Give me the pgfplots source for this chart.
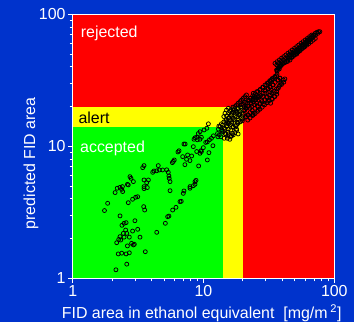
\documentclass[border=0pt]{standalone}
\usepackage{fontspec}
\setmainfont{Liberation Sans}
\usepackage{pgfplots}
\pgfplotsset{compat=1.18}
\definecolor{bgblue}{RGB}{0,51,204}
\definecolor{myred}{RGB}{255,0,0}
\definecolor{myyellow}{RGB}{255,255,0}
\definecolor{mygreen}{RGB}{0,255,0}
\pgfplotstableread{
x y
1.75 3.26
1.85 3.70
2.11 4.46
2.19 4.81
2.30 4.89
2.40 4.95
2.41 4.54
2.37 4.72
2.74 5.89
2.79 5.72
2.66 5.10
2.62 5.15
2.91 5.40
2.66 3.74
2.87 3.97
3.03 4.11
3.14 4.15
2.30 2.97
2.47 2.61
2.56 2.64
2.54 2.32
2.38 2.52
2.44 2.19
2.30 2.07
2.25 1.97
2.17 1.86
2.33 1.95
2.47 2.05
2.59 2.19
2.71 2.05
2.82 1.84
2.91 1.79
2.96 1.81
2.62 1.76
2.37 1.55
2.23 1.53
2.56 1.53
2.71 1.56
2.59 1.28
2.14 1.16
2.99 2.73
3.14 2.35
3.27 2.05
2.87 2.28
3.59 1.59
4.39 2.23
3.51 7.14
3.43 6.89
3.51 5.56
3.51 4.78
3.68 5.30
3.79 5.56
3.51 4.95
3.72 4.87
3.49 3.49
3.55 3.29
4.09 6.35
4.18 6.50
4.39 6.52
4.51 7.14
4.60 6.62
4.87 6.62
5.23 6.64
5.38 6.35
5.44 5.96
5.47 5.72
5.55 5.40
5.55 4.61
5.11 2.61
5.32 2.93
5.44 2.96
5.81 3.29
6.16 3.45
6.61 3.81
6.76 3.83
7.01 4.40
7.09 4.59
7.88 4.81
7.88 4.95
8.36 5.03
8.61 5.40
8.77 5.52
8.61 5.15
5.78 7.52
5.88 7.69
5.98 7.88
6.38 9.06
6.50 9.25
7.09 10.4
7.24 10.4
6.93 8.35
7.21 7.26
7.42 7.97
7.56 8.60
7.88 7.79
8.12 8.45
8.87 9.13
9.18 7.10
9.40 8.85
9.54 9.25
9.64 9.13
10.7 7.88
11.0 8.95
9.97 9.77
10.4 10.7
10.7 10.8
11.1 11.2
11.5 11.5
11.9 12.0
11.8 10.1
8.36 9.94
8.46 11.3
8.61 11.6
8.87 11.7
9.13 12.5
9.40 12.9
10.1 13.3
10.6 13.7
10.9 14.8
9.40 11.3
9.64 11.7
8.97 11.2
13.0 13.5
13.4 14.1
13.8 13.0
14.2 12.9
14.6 13.5
13.2 12.2
12.8 12.5
14.0 14.5
15.0 14.1
15.5 13.5
13.6 11.8
14.4 11.5
12.9 11.8
15.3 12.0
15.2 11.5
15.9 11.3
16.1 11.8
16.7 12.5
16.9 12.2
17.4 12.7
16.4 12.0
17.9 13.2
18.4 12.4
14.6 12.5
15.5 12.4
14.3 16.8
14.6 17.8
15.0 18.8
15.5 19.4
15.9 18.5
16.4 17.8
16.9 18.8
17.4 20.0
17.9 20.6
18.4 21.2
19.0 21.8
19.5 22.4
20.1 23.1
20.7 23.8
21.3 24.5
16.9 16.3
17.4 15.8
18.4 16.8
19.0 17.3
19.5 16.5
20.1 17.8
20.7 18.8
15.9 15.8
15.5 16.3
16.4 15.0
16.9 14.1
17.9 14.5
19.0 15.3
19.8 15.6
21.3 16.8
22.0 17.3
22.7 19.4
23.3 20.0
24.0 17.8
24.7 20.6
25.5 21.2
21.7 21.2
22.3 22.4
22.7 23.1
24.0 22.4
19.5 20.6
18.4 19.4
17.4 18.2
16.4 17.3
15.2 15.3
16.1 14.6
17.9 13.5
15.0 17.0
15.6 18.0
16.2 19.0
16.8 19.8
17.2 19.2
18.0 18.0
18.8 18.6
19.2 19.8
20.4 20.0
21.0 19.5
20.5 21.5
21.8 20.2
23.0 21.5
14.8 15.6
15.4 14.8
18.2 15.2
24.0 17.3
26.2 18.8
24.5 24.0
25.5 23.3
26.5 24.0
24.0 25.2
25.5 25.9
27.0 26.7
28.6 28.0
30.4 29.1
31.2 30.0
32.2 30.9
33.0 31.8
34.1 32.7
35.1 33.3
36.2 34.1
29.5 25.2
28.6 23.8
27.8 22.4
27.0 21.2
30.4 23.8
32.2 25.9
33.0 26.7
33.6 22.7
35.1 23.8
36.2 25.9
37.3 27.5
38.4 29.1
39.5 30.0
40.7 31.8
41.9 32.4
34.1 29.1
37.3 31.8
38.4 32.7
32.6 24.5
31.2 27.5
29.5 26.7
26.2 23.8
24.7 22.4
24.0 23.1
28.6 20.8
32.2 28.0
31.2 22.0
32.6 21.2
36.2 37.9
37.3 39.0
38.4 40.2
39.5 41.3
40.7 42.5
41.9 43.0
43.2 43.8
36.8 38.3
37.9 39.5
38.9 40.6
36.5 37.0
38.0 38.5
44.5 46.4
45.8 47.8
47.2 49.2
48.6 50.7
50.1 51.2
51.6 52.1
53.1 53.7
54.7 55.3
56.4 56.9
58.1 58.6
59.8 60.3
61.6 62.1
63.5 63.9
65.4 65.8
67.3 67.8
69.4 69.8
71.4 71.8
73.6 73.1
75.8 73.9
45.8 45.0
48.6 48.0
51.6 50.0
54.7 53.0
58.1 56.0
61.6 60.0
47.2 47.0
50.1 49.5
53.1 52.0
56.4 55.0
60.0 58.0
64.0 62.0
67.0 66.0
70.0 69.0
44.0 44.0
52.0 54.0
57.0 59.0
62.0 64.0
36.3 41.3
37.7 42.5
39.2 43.8
40.7 45.1
42.3 46.4
43.9 47.8
45.6 49.2
47.4 50.6
49.2 52.1
51.1 53.6
53.1 55.2
55.1 56.8
57.3 58.5
59.5 60.2
61.8 62.0
64.2 63.8
66.7 65.7
69.2 67.6
71.9 69.6
74.7 71.7
77.6 73.8
37.6 40.1
39.0 41.2
40.6 42.5
42.1 43.7
43.8 45.0
45.4 46.4
47.2 47.7
49.1 49.1
50.9 50.5
52.9 52.0
55.0 53.5
57.0 55.1
59.3 56.7
61.6 58.4
64.0 60.1
66.4 61.9
69.0 63.7
71.6 65.6
35.2 42.5
36.6 43.8
38.0 45.1
39.5 46.5
41.0 47.8
42.6 49.2
44.2 50.7
46.0 52.1
47.7 53.7
49.6 55.2
51.5 56.9
53.4 58.5
55.6 60.3
57.7 62.0
59.9 63.9
62.3 65.7
64.7 67.7
67.1 69.6
13.8 13.3
14.4 13.8
15.1 14.3
15.7 14.9
16.4 15.4
17.1 16.0
17.9 16.7
18.6 17.3
19.5 18.0
20.3 18.6
21.2 19.4
22.1 20.1
23.1 20.9
24.1 21.7
25.1 22.5
26.2 23.4
27.4 24.3
28.5 25.2
29.8 26.2
31.1 27.2
32.4 28.2
33.8 29.3
35.3 30.5
36.9 31.6
38.4 32.9
13.1 14.2
13.7 14.8
14.3 15.3
14.9 15.9
15.6 16.5
16.2 17.1
17.0 17.9
17.7 18.5
18.5 19.3
19.3 19.9
20.1 20.8
21.0 21.5
21.9 22.4
22.9 23.2
23.8 24.1
24.9 25.0
26.0 26.0
27.1 27.0
28.3 28.0
29.5 29.1
30.8 30.2
32.1 31.4
33.5 32.6
35.1 33.8
36.5 35.2
14.8 12.4
15.4 12.8
16.2 13.3
16.8 13.9
17.5 14.3
18.3 14.9
19.2 15.5
19.9 16.1
20.9 16.7
21.7 17.3
22.7 18.0
23.6 18.7
24.7 19.4
25.8 20.2
26.9 20.9
28.0 21.8
29.3 22.6
30.5 23.4
31.9 24.4
33.3 25.3
34.7 26.2
36.2 27.2
37.8 28.4
39.5 29.4
41.1 30.6
21.8 15.8
22.7 16.4
23.7 17.1
24.8 17.7
25.9 18.4
27.0 19.1
28.1 19.8
29.3 20.6
30.7 21.4
31.9 22.2
33.4 23.0
34.8 23.9
36.3 24.8
}\pts
\begin{document}
\begin{tikzpicture}[x=1bp,y=1bp]
\fill[bgblue] (-72.7,-43.7) rectangle (281.3,278.3);
\path[use as bounding box] (-72.7,-43.7) rectangle (281.3,278.3);
\begin{axis}[
  at={(0,0)}, anchor=south west,
  width=261.6bp, height=264bp, scale only axis,
  xmode=log, ymode=log,
  xmin=1, xmax=100, ymin=1, ymax=100,
  axis on top,
  axis line style={white, line width=1.5bp},
  tick style={white, line width=0.9bp},
  major tick length=4.5bp, minor tick length=3bp,
  tick align=outside,
  xtick pos=bottom, ytick pos=left,
  xtick={1,10,100}, xticklabels={1,10,100},
  ytick={1,10,100}, yticklabels={1,10,100},
  minor xtick={2,3,4,5,6,7,8,9,20,30,40,50,60,70,80,90},
  minor ytick={2,3,4,5,6,7,8,9,20,30,40,50,60,70,80,90},
  ticklabel style={white, font=\fontsize{16}{18}\selectfont, inner sep=2.5bp},
  xlabel={FID area in ethanol equivalent\ \ [mg/m\,\textsuperscript{2}]},
  ylabel={predicted FID area},
  label style={white, font=\fontsize{16}{18}\selectfont},
  xlabel style={at={(axis description cs:0.493,-0.1515)}, anchor=base, inner sep=0pt},
  ylabel style={at={(axis description cs:-0.144,0.4356)}, anchor=base, rotate=0, inner sep=0pt},
]
\addplot[fill=myred, draw=none] coordinates {(1,1) (100,1) (100,100) (1,100)} -- cycle;
\addplot[fill=myyellow, draw=none] coordinates {(1,1) (20,1) (20,20) (1,20)} -- cycle;
\addplot[fill=mygreen, draw=none] coordinates {(1,1) (14,1) (14,14) (1,14)} -- cycle;
\addplot[only marks, mark=o, mark size=2bp, black, mark options={line width=0.75bp}] table {\pts};
\node[anchor=base west, inner sep=0pt, white, font=\fontsize{16}{18}\selectfont] at (axis cs:1.151,66.9) {rejected};
\node[anchor=base west, inner sep=0pt, black, font=\fontsize{16}{18}\selectfont] at (axis cs:1.104,14.94) {alert};
\node[anchor=base west, inner sep=0pt, white, font=\fontsize{16}{18}\selectfont] at (axis cs:1.137,8.94) {accepted};
\end{axis}
\end{tikzpicture}
\end{document}
